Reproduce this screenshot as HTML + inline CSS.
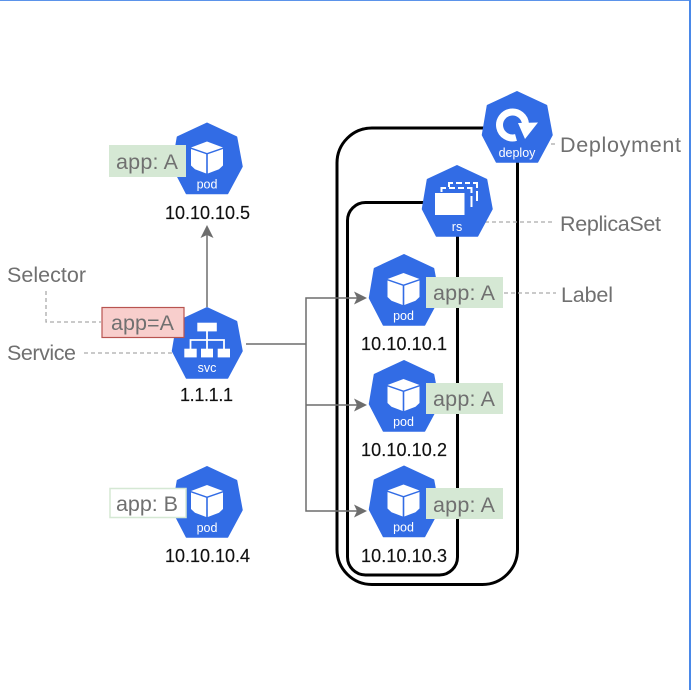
<!DOCTYPE html>
<html><head><meta charset="utf-8">
<style>
html,body{margin:0;padding:0;background:#fff;width:695px;height:690px;overflow:hidden}
svg{display:block}
text{font-family:"Liberation Sans","DejaVu Sans",sans-serif}
.g{fill:#707070;font-size:21.5px}
.b{fill:#111;font-size:18px;stroke:#111;stroke-width:.15px}
.s{fill:#fff;font-size:12.5px;text-anchor:middle}
</style></head><body>
<svg width="695" height="690" viewBox="0 0 695 690" xmlns="http://www.w3.org/2000/svg">
<defs>
<path id="h" d="M0 .8 L29.500 14.500 L35 44 L20.500 71 L-20.500 71 L-34.500 44 L-29.500 14.500 Z" fill="#326ce5" stroke="#326ce5" stroke-width="1.500" stroke-linejoin="round"/>
<g id="cube">
<path d="M0 19 L16 25 L0 30.500 L-16 25 Z" fill="#fff"/>
<path d="M-16 26.500 L-.8 31.700 L-.8 51 L-12 46.800 L-16 43 Z" fill="#fff"/>
<path d="M16 26.500 L.8 31.700 L.8 51 L12 46.800 L16 43 Z" fill="#fff"/>
</g>
</defs>
<rect x="0" y="0" width="691" height="1" fill="#5b93ea"/>
<rect x="689" y="0" width="2" height="690" fill="#4a88e8"/>

<rect x="337" y="128" width="180.500" height="456.500" rx="35" fill="none" stroke="#000" stroke-width="3"/>
<rect x="347.500" y="202.500" width="110" height="372.500" rx="18" fill="none" stroke="#000" stroke-width="3"/>

<g fill="none" stroke="#aaa" stroke-width="1.300" stroke-dasharray="4 3">
<path d="M46 291 V322 H101"/>
<path d="M84 353 H172"/>
<path d="M485 222 H555"/>
<path d="M551 144 H556"/>
<path d="M504 293 H556"/>
</g>

<g fill="none" stroke="#6d6d6d" stroke-width="1.500">
<path d="M207 307 V234"/>
<path d="M246 344 H306"/>
<path d="M359 298 H306 V511 H359"/>
<path d="M306 405 H359"/>
</g>
<g fill="#6d6d6d">
<path d="M207 225 L213.500 238 L207 235 L200.500 238 Z"/>
<path d="M367 298 L354 304.500 L357 298 L354 291.500 Z"/>
<path d="M367 405 L354 411.500 L357 405 L354 398.500 Z"/>
<path d="M367 511 L354 517.500 L357 511 L354 504.500 Z"/>
</g>

<use href="#h" x="517" y="91"/>
<path d="M516 137.500 A13 13 0 1 1 525.500 124" fill="none" stroke="#fff" stroke-width="7"/>
<path d="M518 123 L538 122.500 L525 139 Z" fill="#fff"/>
<text class="s" x="517" y="157">deploy</text>

<use href="#h" x="457" y="165"/>
<g fill="none" stroke="#fff" stroke-width="2">
<path d="M449 187 V183 H453 M456 183 H462 M465 183 H470 M473 183 H477 V188 M477 191 V201"/>
<path d="M441.500 192 V188 H446 M449 188 H455 M458 188 H464 M467 188 H471.500 V193 M471.500 196 V207"/>
</g>
<rect x="435" y="193" width="29.500" height="22" fill="#fff" stroke="#326ce5" stroke-width="0"/>
<text class="s" x="457" y="231">rs</text>

<use href="#h" x="404" y="254"/><use href="#cube" x="403.500" y="254"/><text class="s" x="403.500" y="320">pod</text>
<use href="#h" x="404" y="360"/><use href="#cube" x="403.500" y="360"/><text class="s" x="403.500" y="426">pod</text>
<use href="#h" x="404" y="465.500"/><use href="#cube" x="403.500" y="465.500"/><text class="s" x="403.500" y="531.500">pod</text>
<use href="#h" x="207" y="122.500"/><use href="#cube" x="207" y="122.500"/><text class="s" x="207" y="188.500">pod</text>
<use href="#h" x="207" y="466"/><use href="#cube" x="207" y="466"/><text class="s" x="207" y="532">pod</text>

<use href="#h" x="207" y="307"/>
<g fill="#fff">
<rect x="197.300" y="322.700" width="19.500" height="8.700"/>
<rect x="184.300" y="348.700" width="12.400" height="8.700"/>
<rect x="201" y="348.700" width="12" height="8.700"/>
<rect x="217.700" y="348.700" width="12.300" height="8.700"/>
</g>
<path d="M207 331 V349 M190.500 349 V340 H224 V349" fill="none" stroke="#fff" stroke-width="1.800"/>
<text class="s" x="207" y="372">svc</text>

<rect x="109" y="145" width="77" height="32" fill="#d5e8d4"/>
<text class="g" x="116" y="169" textLength="62" lengthAdjust="spacing">app: A</text>
<rect x="110" y="488.500" width="76" height="29" fill="#fff" stroke="#d5e8d4" stroke-width="1.500"/>
<text class="g" x="116" y="511" textLength="62" lengthAdjust="spacing">app: B</text>
<rect x="426" y="277" width="77" height="31" fill="#d5e8d4"/>
<text class="g" x="433" y="300" textLength="62" lengthAdjust="spacing">app: A</text>
<rect x="426" y="383" width="77" height="31" fill="#d5e8d4"/>
<text class="g" x="433" y="406" textLength="62" lengthAdjust="spacing">app: A</text>
<rect x="426" y="488" width="77" height="31" fill="#d5e8d4"/>
<text class="g" x="433" y="512" textLength="62" lengthAdjust="spacing">app: A</text>
<rect x="102" y="307.500" width="82" height="30" fill="#f8cecc" stroke="#b85450" stroke-width="1.200"/>
<text class="g" x="111" y="330" textLength="63" lengthAdjust="spacing">app=A</text>

<text class="g" x="7" y="282" textLength="79" lengthAdjust="spacing">Selector</text>
<text class="g" x="7" y="360" textLength="69" lengthAdjust="spacing">Service</text>
<text class="g" x="560" y="152" textLength="121" lengthAdjust="spacing">Deployment</text>
<text class="g" x="560" y="231" textLength="101" lengthAdjust="spacing">ReplicaSet</text>
<text class="g" x="561" y="302" textLength="52" lengthAdjust="spacing">Label</text>

<text class="b" x="165" y="219" textLength="85" lengthAdjust="spacing">10.10.10.5</text>
<text class="b" x="180" y="401" textLength="53" lengthAdjust="spacing">1.1.1.1</text>
<text class="b" x="165" y="562" textLength="85" lengthAdjust="spacing">10.10.10.4</text>
<text class="b" x="361" y="350" textLength="86" lengthAdjust="spacing">10.10.10.1</text>
<text class="b" x="361" y="456" textLength="86" lengthAdjust="spacing">10.10.10.2</text>
<text class="b" x="361" y="562" textLength="86" lengthAdjust="spacing">10.10.10.3</text>
</svg>
</body></html>
